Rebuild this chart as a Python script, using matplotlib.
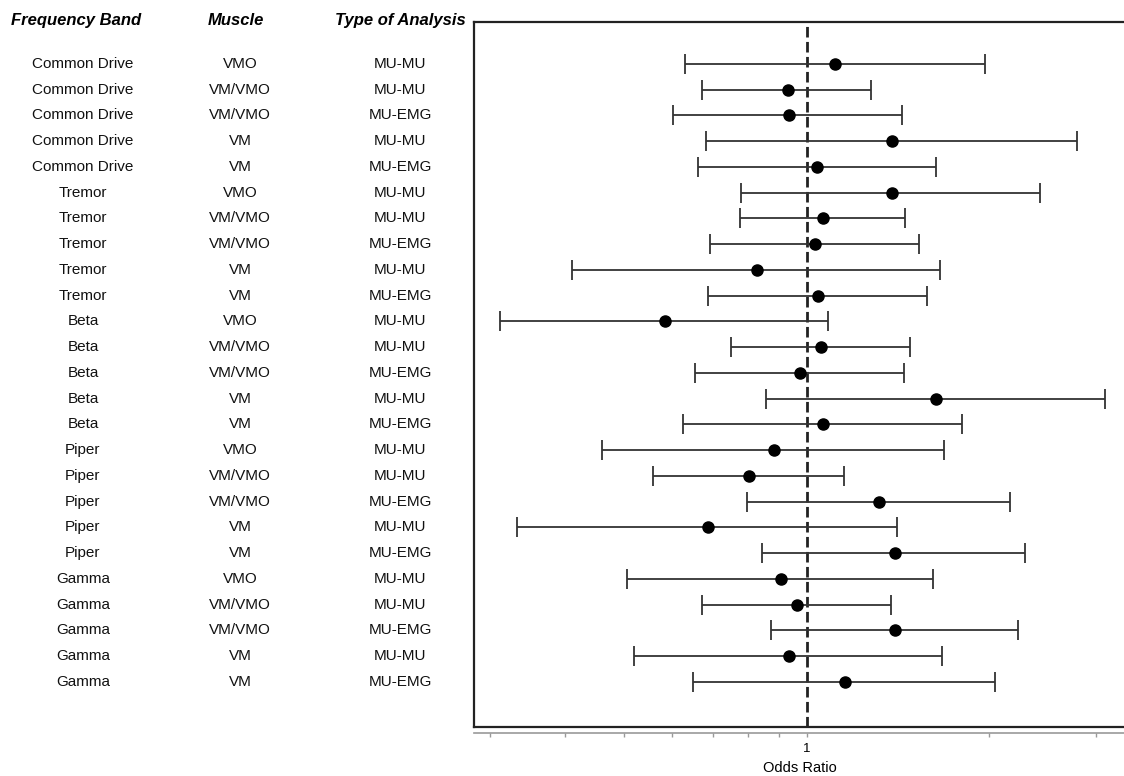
import matplotlib
matplotlib.use("Agg")
import matplotlib.pyplot as plt
from matplotlib.transforms import blended_transform_factory
from matplotlib.ticker import FixedLocator, FixedFormatter

plt.rcParams['font.family'] = ['Liberation Sans', 'DejaVu Sans']

# Tabelle links
freq_band = ["Common Drive"] * 5 + ["Tremor"] * 5 + ["Beta"] * 5 + ["Piper"] * 5 + ["Gamma"] * 5
muscle = ["VMO", "VM/VMO", "VM/VMO", "VM", "VM"] * 5
analysis = ["MU-MU", "MU-MU", "MU-EMG", "MU-MU", "MU-EMG"] * 5

# Odds Ratios mit 95%-KI
odds_ratio = [1.116, 0.931, 0.934, 1.386, 1.042,
              1.381, 1.065, 1.034, 0.828, 1.044,
              0.584, 1.055, 0.975, 1.636, 1.065,
              0.884, 0.802, 1.317, 0.687, 1.397,
              0.906, 0.966, 1.401, 0.934, 1.155]
ci_lower = [0.631, 0.673, 0.603, 0.683, 0.662,
            0.780, 0.776, 0.693, 0.410, 0.687,
            0.312, 0.751, 0.654, 0.858, 0.626,
            0.460, 0.557, 0.796, 0.333, 0.844,
            0.506, 0.672, 0.873, 0.519, 0.649]
ci_upper = [1.967, 1.278, 1.439, 2.791, 1.634,
            2.427, 1.453, 1.534, 1.663, 1.578,
            1.086, 1.481, 1.446, 3.112, 1.805,
            1.686, 1.151, 2.169, 1.412, 2.289,
            1.618, 1.377, 2.232, 1.671, 2.043]

x_ticks = [0.3, 0.4, 0.5, 0.6, 0.7, 0.8, 0.9, 1, 2, 3]
x_tick_labels = ["", "", "", "", "", "", "", "1", "", ""]
headers = ["Frequency Band", "Muscle", "Type of Analysis"]

W, H = 1124, 776
fig = plt.figure(figsize=(W / 100, H / 100), dpi=100)
left, right, top, bottom = 474, 1125, 22, 727
ax = fig.add_axes([left / W, 1 - bottom / H, (right - left) / W, (bottom - top) / H])

rows = list(range(len(odds_ratio)))
err = [[o - l for o, l in zip(odds_ratio, ci_lower)],
       [u - o for o, u in zip(odds_ratio, ci_upper)]]
ax.errorbar(odds_ratio, rows, xerr=err, fmt='o', color='black', ms=8,
            ecolor='#333333', elinewidth=1.3, capsize=7.5, capthick=1.3, zorder=3)

ax.axvline(1, color='#222222', lw=2, linestyle=(0, (3.8, 1.6)), zorder=2)

ax.set_xscale('log')
ax.set_xlim(0.2826, 3.353)
ax.set_ylim(25.75, -1.63)

# Rahmen
ax.spines['right'].set_visible(False)
for s in ['left', 'top']:
    ax.spines[s].set_color('#222222')
    ax.spines[s].set_linewidth(1.6)
ax.plot([0, 1], [0, 0], transform=ax.transAxes, color='#222222', lw=1.6, clip_on=False)

ax.spines['bottom'].set_position(('outward', 4))
ax.spines['bottom'].set_color('#999999')
ax.spines['bottom'].set_linewidth(1.2)
ax.xaxis.set_major_locator(FixedLocator(x_ticks))
ax.xaxis.set_major_formatter(FixedFormatter(x_tick_labels))
ax.xaxis.set_minor_locator(FixedLocator([]))
ax.tick_params(axis='x', direction='out', length=3, width=1, color='#999999',
               labelsize=9.5, pad=4.5)
ax.set_yticks([])
ax.set_xlabel("Odds Ratio", fontsize=10.5, labelpad=4)

# Tabellentext
trans = blended_transform_factory(fig.transFigure, ax.transData)
col_x = [83 / W, 240 / W, 400 / W]
for i in rows:
    for cx, txt in zip(col_x, [freq_band[i], muscle[i], analysis[i]]):
        ax.text(cx, i, txt, transform=trans, ha='center', va='center',
                fontsize=11, color='#111111', clip_on=False)

header_x = [76 / W, 236 / W, 400 / W]
for hx, h in zip(header_x, headers):
    fig.text(hx, 1 - 19 / H, h, ha='center', va='center_baseline', fontsize=12,
             fontweight='bold', fontstyle='italic')

fig.savefig("out.png", dpi=100)
